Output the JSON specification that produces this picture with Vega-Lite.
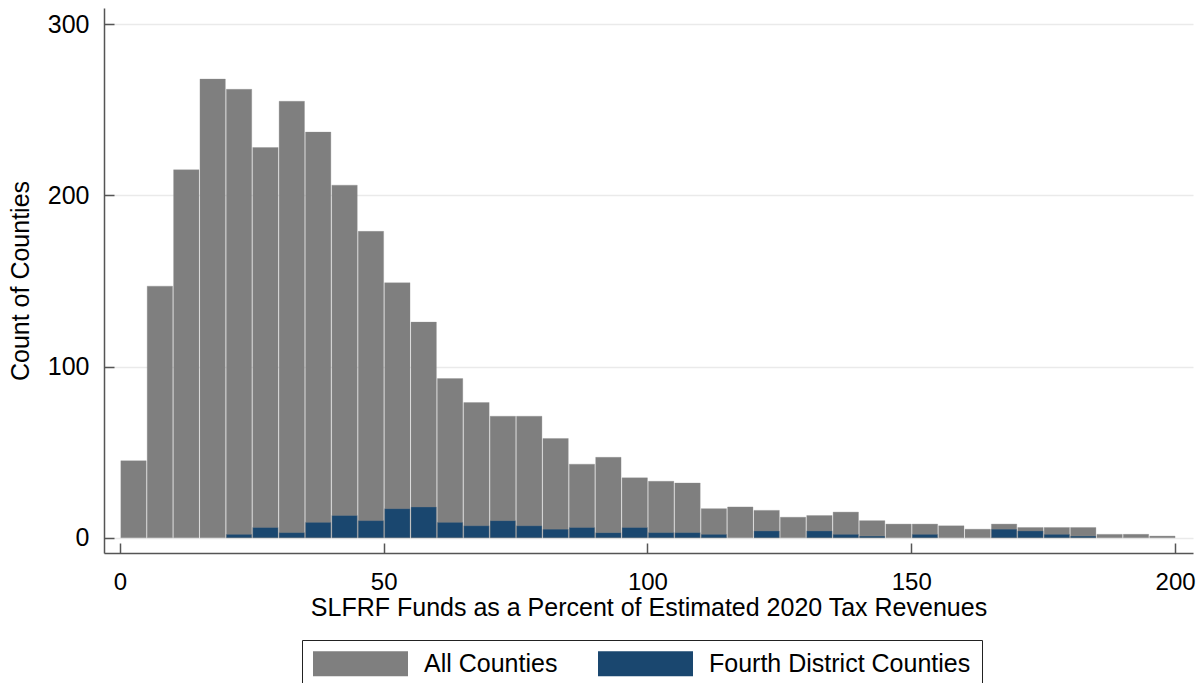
{
  "$schema": "https://vega.github.io/schema/vega-lite/v6.json",
  "width": 1089,
  "height": 545,
  "autosize": {"type": "none"},
  "padding": {"left": 104, "top": 8, "right": 11, "bottom": 130},
  "background": "white",
  "config": {
    "view": {"stroke": null},
    "font": "Liberation Sans",
    "axis": {
      "labelFont": "Liberation Sans",
      "titleFont": "Liberation Sans",
      "labelFontSize": 25,
      "titleFontSize": 25,
      "labelColor": "black",
      "titleColor": "black",
      "titleFontWeight": "normal",
      "domainColor": "#555555",
      "domainWidth": 1.5,
      "tickColor": "#555555",
      "tickWidth": 1.5,
      "tickSize": -10,
      "gridColor": "#eaeaea",
      "gridWidth": 1.5
    }
  },
  "data": {
    "values": [
      {"bin_start": 0, "bin_end": 5, "count": 45, "group": "All Counties"},
      {"bin_start": 5, "bin_end": 10, "count": 147, "group": "All Counties"},
      {"bin_start": 10, "bin_end": 15, "count": 215, "group": "All Counties"},
      {"bin_start": 15, "bin_end": 20, "count": 268, "group": "All Counties"},
      {"bin_start": 20, "bin_end": 25, "count": 262, "group": "All Counties"},
      {"bin_start": 25, "bin_end": 30, "count": 228, "group": "All Counties"},
      {"bin_start": 30, "bin_end": 35, "count": 255, "group": "All Counties"},
      {"bin_start": 35, "bin_end": 40, "count": 237, "group": "All Counties"},
      {"bin_start": 40, "bin_end": 45, "count": 206, "group": "All Counties"},
      {"bin_start": 45, "bin_end": 50, "count": 179, "group": "All Counties"},
      {"bin_start": 50, "bin_end": 55, "count": 149, "group": "All Counties"},
      {"bin_start": 55, "bin_end": 60, "count": 126, "group": "All Counties"},
      {"bin_start": 60, "bin_end": 65, "count": 93, "group": "All Counties"},
      {"bin_start": 65, "bin_end": 70, "count": 79, "group": "All Counties"},
      {"bin_start": 70, "bin_end": 75, "count": 71, "group": "All Counties"},
      {"bin_start": 75, "bin_end": 80, "count": 71, "group": "All Counties"},
      {"bin_start": 80, "bin_end": 85, "count": 58, "group": "All Counties"},
      {"bin_start": 85, "bin_end": 90, "count": 43, "group": "All Counties"},
      {"bin_start": 90, "bin_end": 95, "count": 47, "group": "All Counties"},
      {"bin_start": 95, "bin_end": 100, "count": 35, "group": "All Counties"},
      {"bin_start": 100, "bin_end": 105, "count": 33, "group": "All Counties"},
      {"bin_start": 105, "bin_end": 110, "count": 32, "group": "All Counties"},
      {"bin_start": 110, "bin_end": 115, "count": 17, "group": "All Counties"},
      {"bin_start": 115, "bin_end": 120, "count": 18, "group": "All Counties"},
      {"bin_start": 120, "bin_end": 125, "count": 16, "group": "All Counties"},
      {"bin_start": 125, "bin_end": 130, "count": 12, "group": "All Counties"},
      {"bin_start": 130, "bin_end": 135, "count": 13, "group": "All Counties"},
      {"bin_start": 135, "bin_end": 140, "count": 15, "group": "All Counties"},
      {"bin_start": 140, "bin_end": 145, "count": 10, "group": "All Counties"},
      {"bin_start": 145, "bin_end": 150, "count": 8, "group": "All Counties"},
      {"bin_start": 150, "bin_end": 155, "count": 8, "group": "All Counties"},
      {"bin_start": 155, "bin_end": 160, "count": 7, "group": "All Counties"},
      {"bin_start": 160, "bin_end": 165, "count": 5, "group": "All Counties"},
      {"bin_start": 165, "bin_end": 170, "count": 8, "group": "All Counties"},
      {"bin_start": 170, "bin_end": 175, "count": 6, "group": "All Counties"},
      {"bin_start": 175, "bin_end": 180, "count": 6, "group": "All Counties"},
      {"bin_start": 180, "bin_end": 185, "count": 6, "group": "All Counties"},
      {"bin_start": 185, "bin_end": 190, "count": 2, "group": "All Counties"},
      {"bin_start": 190, "bin_end": 195, "count": 2, "group": "All Counties"},
      {"bin_start": 195, "bin_end": 200, "count": 1, "group": "All Counties"},
      {"bin_start": 20, "bin_end": 25, "count": 2, "group": "Fourth District Counties"},
      {"bin_start": 25, "bin_end": 30, "count": 6, "group": "Fourth District Counties"},
      {"bin_start": 30, "bin_end": 35, "count": 3, "group": "Fourth District Counties"},
      {"bin_start": 35, "bin_end": 40, "count": 9, "group": "Fourth District Counties"},
      {"bin_start": 40, "bin_end": 45, "count": 13, "group": "Fourth District Counties"},
      {"bin_start": 45, "bin_end": 50, "count": 10, "group": "Fourth District Counties"},
      {"bin_start": 50, "bin_end": 55, "count": 17, "group": "Fourth District Counties"},
      {"bin_start": 55, "bin_end": 60, "count": 18, "group": "Fourth District Counties"},
      {"bin_start": 60, "bin_end": 65, "count": 9, "group": "Fourth District Counties"},
      {"bin_start": 65, "bin_end": 70, "count": 7, "group": "Fourth District Counties"},
      {"bin_start": 70, "bin_end": 75, "count": 10, "group": "Fourth District Counties"},
      {"bin_start": 75, "bin_end": 80, "count": 7, "group": "Fourth District Counties"},
      {"bin_start": 80, "bin_end": 85, "count": 5, "group": "Fourth District Counties"},
      {"bin_start": 85, "bin_end": 90, "count": 6, "group": "Fourth District Counties"},
      {"bin_start": 90, "bin_end": 95, "count": 3, "group": "Fourth District Counties"},
      {"bin_start": 95, "bin_end": 100, "count": 6, "group": "Fourth District Counties"},
      {"bin_start": 100, "bin_end": 105, "count": 3, "group": "Fourth District Counties"},
      {"bin_start": 105, "bin_end": 110, "count": 3, "group": "Fourth District Counties"},
      {"bin_start": 110, "bin_end": 115, "count": 2, "group": "Fourth District Counties"},
      {"bin_start": 120, "bin_end": 125, "count": 4, "group": "Fourth District Counties"},
      {"bin_start": 130, "bin_end": 135, "count": 4, "group": "Fourth District Counties"},
      {"bin_start": 135, "bin_end": 140, "count": 2, "group": "Fourth District Counties"},
      {"bin_start": 140, "bin_end": 145, "count": 1, "group": "Fourth District Counties"},
      {"bin_start": 150, "bin_end": 155, "count": 2, "group": "Fourth District Counties"},
      {"bin_start": 165, "bin_end": 170, "count": 5, "group": "Fourth District Counties"},
      {"bin_start": 170, "bin_end": 175, "count": 4, "group": "Fourth District Counties"},
      {"bin_start": 175, "bin_end": 180, "count": 2, "group": "Fourth District Counties"},
      {"bin_start": 180, "bin_end": 185, "count": 1, "group": "Fourth District Counties"}
    ]
  },
  "mark": {"type": "bar", "strokeWidth": 0.8, "stroke": "#8e8e8e", "strokeOpacity": 0.4},
  "encoding": {
    "x": {
      "field": "bin_start",
      "type": "quantitative",
      "bin": {"binned": true, "step": 5},
      "scale": {"domain": [-3, 203.4], "nice": false, "zero": false},
      "axis": {
        "title": "SLFRF Funds as a Percent of Estimated 2020 Tax Revenues",
        "values": [0, 50, 100, 150, 200],
        "grid": false,
        "labelPadding": 27,
        "titlePadding": 1,
        "labelFontSize": 24,
        "labelFlush": false
      }
    },
    "x2": {"field": "bin_end"},
    "y": {
      "field": "count",
      "type": "quantitative",
      "stack": null,
      "scale": {"domain": [-8.9, 309.5], "nice": false, "zero": false},
      "axis": {
        "title": "Count of Counties",
        "values": [0, 100, 200, 300],
        "grid": true,
        "labelPadding": 25,
        "titlePadding": 14,
        "labelFlush": false
      }
    },
    "color": {
      "field": "group",
      "type": "nominal",
      "scale": {"domain": ["All Counties", "Fourth District Counties"], "range": ["#7f7f7f", "#1a476f"]},
      "legend": {
        "title": null,
        "orient": "none",
        "legendX": 198,
        "legendY": 632,
        "direction": "horizontal",
        "symbolType": "M-1,-1H6.6V1H-1Z",
        "symbolSize": 625,
        "symbolStrokeWidth": 0,
        "symbolOpacity": 1,
        "labelFont": "Liberation Sans",
        "labelFontSize": 25,
        "labelColor": "black",
        "labelOffset": 86,
        "columnPadding": 40,
        "padding": 11,
        "strokeColor": "#222222",
        "fillColor": "white",
        "labelLimit": 400
      }
    },
    "order": {"field": "group", "sort": "ascending"}
  }
}
